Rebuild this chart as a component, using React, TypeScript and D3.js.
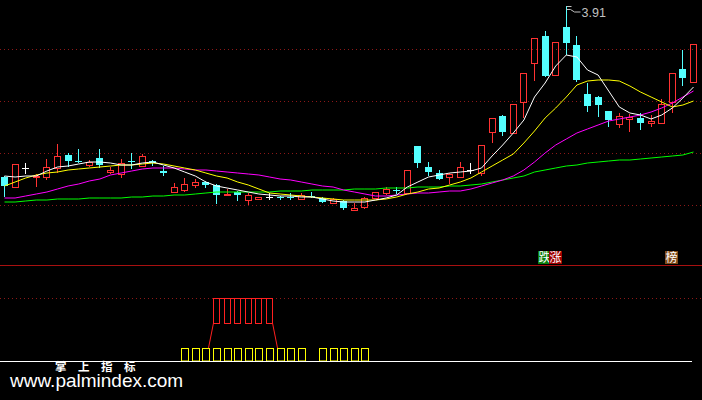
import React from 'react';
import * as d3 from 'd3';

const W = 702;
const H = 400;

// Daily OHLC (price units)
const opens = [3.055,3.005,3.10,3.055,3.055,3.10,3.165,3.135,3.115,3.15, 3.08,3.07,3.135,3.11,3.135,3.085,2.98,2.99,3.015,3.03, 3.015,2.965,2.98,2.94,2.945,2.955,2.955,2.955,2.945,2.96, 2.95,2.925,2.935,2.89,2.905,2.95,2.975,2.99,2.975,3.21, 3.105,3.075,3.055,3.055,3.09,3.075,3.28,3.36,3.275,3.43, 3.625,3.76,3.565,3.805,3.715,3.47,3.455,3.385,3.32,3.345, 3.35,3.325,3.325,3.43,3.595,3.53];
const highs = [3.06,3.12,3.125,3.07,3.145,3.22,3.175,3.195,3.14,3.195, 3.105,3.145,3.175,3.17,3.14,3.11,3.025,3.05,3.045,3.035, 3.02,2.995,2.985,2.975,2.955,2.975,2.96,2.975,2.975,2.98, 2.955,2.95,2.94,2.925,2.955,2.98,3.005,3.005,3.09,3.21, 3.13,3.09,3.075,3.13,3.125,3.215,3.35,3.365,3.42,3.575, 3.75,3.785,3.73,3.91,3.76,3.525,3.46,3.385,3.375,3.37, 3.375,3.365,3.445,3.575,3.69,3.72];
const lows = [2.96,3.005,3.075,3.01,3.045,3.08,3.11,3.13,3.11,3.105, 3.075,3.055,3.10,3.11,3.115,3.065,2.98,2.985,3.005,3.005, 2.925,2.965,2.94,2.92,2.945,2.945,2.945,2.945,2.945,2.955, 2.93,2.925,2.895,2.89,2.90,2.95,2.97,2.975,2.975,3.105, 3.065,3.045,3.025,3.055,3.075,3.065,3.23,3.265,3.275,3.355, 3.54,3.56,3.565,3.67,3.535,3.385,3.36,3.31,3.305,3.285, 3.295,3.31,3.325,3.38,3.515,3.53];
const closes = [3.01,3.12,3.10,3.06,3.105,3.16,3.135,3.13,3.13,3.115, 3.09,3.125,3.13,3.16,3.125,3.075,3.005,3.02,3.03,3.015, 2.965,2.97,2.965,2.965,2.955,2.955,2.95,2.95,2.965,2.955, 2.93,2.945,2.90,2.90,2.95,2.98,2.995,2.985,3.09,3.125, 3.08,3.045,3.07,3.105,3.09,3.215,3.35,3.28,3.42,3.575, 3.75,3.56,3.73,3.725,3.54,3.41,3.415,3.34,3.36,3.355, 3.325,3.335,3.42,3.575,3.55,3.72];

// Moving averages
const ma5 = [3.06,3.055,3.06,3.06,3.085,3.105,3.11,3.12,3.13,3.13, 3.125,3.115,3.115,3.125,3.13,3.115,3.10,3.08,3.06,3.03, 3.01,3.00,2.99,2.98,2.97,2.965,2.96,2.96,2.955,2.955, 2.945,2.935,2.93,2.93,2.93,2.94,2.95,2.965,3.005,3.03, 3.055,3.065,3.075,3.08,3.085,3.10,3.16,3.215,3.275,3.34, 3.455,3.525,3.61,3.665,3.655,3.59,3.565,3.485,3.405,3.375, 3.365,3.345,3.365,3.40,3.45,3.505];
const ma10 = [3.01,3.03,3.05,3.065,3.075,3.08,3.09,3.095,3.10,3.105, 3.11,3.115,3.115,3.12,3.125,3.12,3.11,3.10,3.09,3.075, 3.06,3.05,3.03,3.015,2.995,2.975,2.97,2.965,2.96,2.955, 2.95,2.945,2.94,2.94,2.94,2.94,2.945,2.955,2.97,2.98, 2.995,3.00,3.015,3.03,3.05,3.08,3.11,3.14,3.17,3.225, 3.285,3.35,3.40,3.455,3.515,3.535,3.54,3.54,3.535,3.51, 3.48,3.455,3.43,3.405,3.415,3.435];
const ma20 = [2.95,2.95,2.96,2.97,2.98,2.995,3.01,3.02,3.035,3.045, 3.065,3.075,3.085,3.095,3.10,3.10,3.10,3.095,3.09,3.09, 3.085,3.08,3.075,3.07,3.065,3.055,3.045,3.04,3.03,3.02, 3.01,3.005,2.99,2.98,2.97,2.96,2.96,2.965,2.97,2.975, 2.975,2.98,2.985,2.985,2.995,3.01,3.025,3.04,3.06,3.09, 3.13,3.175,3.215,3.245,3.275,3.295,3.315,3.335,3.345,3.355, 3.365,3.38,3.40,3.425,3.455,3.485];
const ma60 = [2.93,2.93,2.935,2.94,2.94,2.945,2.945,2.945,2.95,2.95, 2.95,2.95,2.955,2.955,2.96,2.96,2.965,2.965,2.97,2.975, 2.98,2.98,2.98,2.98,2.98,2.98,2.985,2.985,2.985,2.99, 2.99,2.99,2.99,2.995,2.995,2.995,3.00,3.00,3.00,3.005, 3.005,3.005,3.01,3.01,3.015,3.02,3.03,3.04,3.05,3.06, 3.08,3.09,3.10,3.11,3.115,3.125,3.13,3.135,3.14,3.14, 3.145,3.15,3.155,3.16,3.165,3.18];

const gridLevels = [3.695, 3.435, 3.175, 2.915];
const peakLabel = '3.91';

// Lower indicator panel signals (candle indices)
const yellowSignals = [17,18,19,20,21,22,23,24,25,26,27,28,30,31,32,33,34];
const redSignals = [20,21,22,23,24,25];
const yellowLevel = [0, 20];
const redLevel = [60, 100];

const tags = [
  { i: 50, text: '跌', bg: '#0b800b' },
  { i: 51, text: '涨', bg: '#a00000' },
  { i: 62, text: '榜', bg: '#7f4a18' },
];

const RED = '#ff3232';
const CYAN = '#54ffff';
const GRID = '#8c1818';

export default function App() {
  const n = closes.length;
  const x = d3.scaleLinear().domain([0, n - 1]).range([4.5, 693.5]);
  const y = d3.scaleLinear().domain([2.615, 3.94]).range([265, 0]);
  const yi = d3.scaleLinear().domain([0, 100]).range([361, 298]);

  const line = d3.line<number>().x((_, i) => x(i)).y((d) => y(d));
  const mas = [
    { data: ma60, color: '#00ff00' },
    { data: ma20, color: '#ff00ff' },
    { data: ma10, color: '#ffff00' },
    { data: ma5, color: '#ffffff' },
  ];

  const candles = closes.map((c, i) => {
    const o = opens[i];
    const cx = Math.floor(x(i));
    const left = cx - 3;
    const wx = left + 3.5;
    const yTop = Math.round(y(Math.max(o, c)));
    const yBot = Math.round(y(Math.min(o, c)));
    const yH = Math.round(y(highs[i]));
    const yL = Math.round(y(lows[i]));
    if (c > o) {
      const parts = [];
      if (yH < yTop) parts.push(<line key="u" x1={wx} x2={wx} y1={yH} y2={yTop} stroke={RED} />);
      if (yL > yBot) parts.push(<line key="d" x1={wx} x2={wx} y1={yBot + 1} y2={yL + 1} stroke={RED} />);
      if (yBot - yTop >= 2) {
        parts.push(<rect key="b" x={left + 0.5} y={yTop + 0.5} width={6} height={yBot - yTop} fill="none" stroke={RED} />);
      } else {
        parts.push(<rect key="b" x={left} y={yTop} width={7} height={Math.max(2, yBot - yTop + 1)} fill={RED} />);
      }
      return <g key={i}>{parts}</g>;
    }
    if (c < o) {
      return (
        <g key={i}>
          <line x1={wx} x2={wx} y1={yH} y2={yL + 1} stroke={CYAN} />
          <rect x={left} y={yTop} width={7} height={Math.max(1, yBot - yTop)} fill={CYAN} />
        </g>
      );
    }
    return (
      <g key={i}>
        <line x1={wx} x2={wx} y1={yH} y2={yL + 1} stroke="#ffffff" />
        <line x1={left} x2={left + 7} y1={yTop + 0.5} y2={yTop + 0.5} stroke="#ffffff" />
      </g>
    );
  });

  // peak label
  let peakI = 0;
  highs.forEach((h, i) => { if (h > highs[peakI]) peakI = i; });
  const px = Math.floor(x(peakI)) + 0.5;
  const py = Math.round(y(highs[peakI]));

  const redFirst = Math.floor(x(redSignals[0])) - 3;
  const redLast = Math.floor(x(redSignals[redSignals.length - 1])) - 3 + 6;

  return (
    <svg width={W} height={H} style={{ position: 'absolute', left: 0, top: 0, display: 'block', background: '#000' }}>
      <rect x={0} y={0} width={W} height={H} fill="#000" />
      {gridLevels.map((g, k) => (
        <line key={k} x1={0} x2={W} y1={Math.round(y(g)) + 0.5} y2={Math.round(y(g)) + 0.5} stroke={GRID} strokeDasharray="1 3" />
      ))}
      <line x1={0} x2={W} y1={Math.round(y(2.615)) + 0.5} y2={Math.round(y(2.615)) + 0.5} stroke="#a81010" />
      <line x1={0} x2={W} y1={Math.round(yi(100)) + 0.5} y2={Math.round(yi(100)) + 0.5} stroke={GRID} strokeDasharray="1 3" />

      {candles}
      {mas.map((m, k) => (
        <path key={k} d={line(m.data) || ''} fill="none" stroke={m.color} strokeWidth={1} />
      ))}

      {/* peak marker */}
      <g stroke="#c0c0c0" fill="none">
        <line x1={px} x2={px + 5} y1={py + 0.5} y2={py + 0.5} />
        <line x1={px} x2={px + 4} y1={py + 3.5} y2={py + 3.5} />
        <path d={`M${px + 4},${py + 3.5} L${px + 8},${py + 6} L${px + 14},${py + 6}`} />
      </g>
      <text x={px + 15} y={py + 11} fill="#c0c0c0" fontSize={12.5} fontFamily="Liberation Sans, Arial, sans-serif">{peakLabel}</text>

      {tags.map((t, k) => {
        const lx = Math.floor(x(t.i)) + 4;
        return (
          <g key={k}>
            <rect x={lx} y={251} width={13} height={13} fill={t.bg} />
            <text x={lx + 0.5} y={262} fill="#ffffff" fontSize={12} fontFamily="Noto Sans CJK SC, sans-serif">{t.text}</text>
          </g>
        );
      })}

      {/* lower panel */}
      {yellowSignals.map((i) => {
        const left = Math.floor(x(i)) - 3;
        const top = Math.round(yi(yellowLevel[1]));
        const bot = Math.round(yi(yellowLevel[0]));
        return <rect key={'y' + i} x={left + 0.5} y={top + 0.5} width={7} height={bot - top - 0.5} fill="none" stroke="#ffff00" />;
      })}
      {redSignals.map((i) => {
        const left = Math.floor(x(i)) - 3;
        const top = Math.round(yi(redLevel[1]));
        const bot = Math.round(yi(redLevel[0]));
        return <rect key={'r' + i} x={left + 0.5} y={top + 0.5} width={6} height={bot - top} fill="none" stroke="#ff2020" />;
      })}
      <line x1={redFirst} x2={redLast + 1} y1={Math.round(yi(redLevel[1])) + 0.5} y2={Math.round(yi(redLevel[1])) + 0.5} stroke="#ff2020" />
      <line x1={redFirst + 0.5} y1={Math.round(yi(redLevel[0]))} x2={redFirst - 4.5} y2={Math.round(yi(yellowLevel[1]))} stroke="#ff2020" />
      <line x1={redLast + 0.5} y1={Math.round(yi(redLevel[0]))} x2={redLast + 5.5} y2={Math.round(yi(yellowLevel[1]))} stroke="#ff2020" />

      <text x={55} y={370.5} fill="#ffffff" fontSize={11.5} fontWeight="bold" letterSpacing={11.5} fontFamily="Noto Sans CJK SC, sans-serif">掌上指标</text>
      <line x1={0} x2={692} y1={361.5} y2={361.5} stroke="#ffffff" />
      <text x={10} y={387} fill="#ffffff" fontSize={19} fontFamily="Liberation Sans, Arial, sans-serif">www.palmindex.com</text>
    </svg>
  );
}
